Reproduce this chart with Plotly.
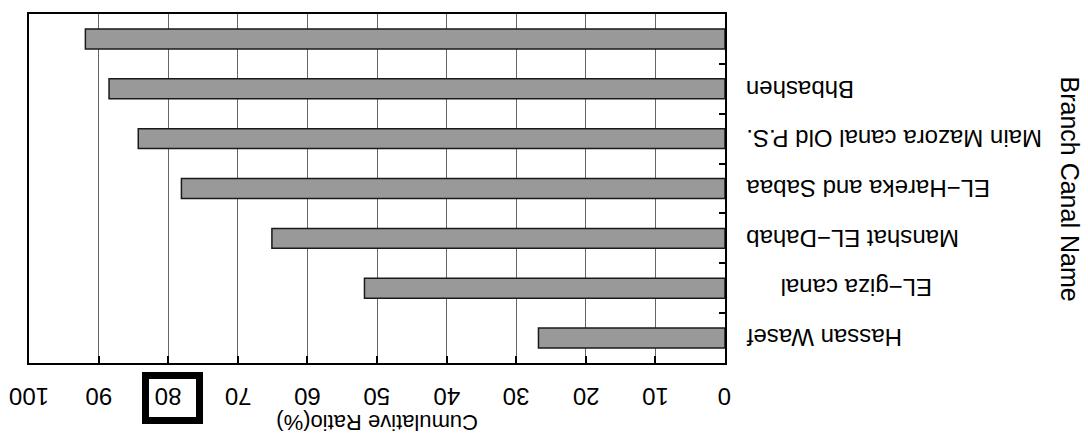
import plotly.graph_objects as go

# Data (top-to-bottom as displayed)
categories = ["", "Bhbashen", "Main Mazora canal Old P.S.", "EL\u2212Hareka and Sabaa",
              "Manshat EL\u2212Dahab", "EL\u2212giza canal", "Hassan Wasef"]
cumulative_ratio = [91.9, 88.5, 84.3, 78.1, 65.1, 51.8, 26.8]
tick_values = [0, 10, 20, 30, 40, 50, 60, 70, 80, 90, 100]
tick_labels = [str(v) for v in tick_values]
highlight_tick = 80

FONT = "Liberation Sans, Arial, Helvetica, sans-serif"
positions = list(range(len(categories)))

fig = go.Figure()
fig.add_trace(go.Bar(
    x=cumulative_ratio, y=positions, orientation="h", width=0.4,
    marker=dict(color="#999999", line=dict(color="#1a1a1a", width=1.5)),
    hoverinfo="x",
))

annotations = []
# x tick labels (upside down)
for v, lab in zip(tick_values, tick_labels):
    annotations.append(dict(x=v, xref="x", y=0, yref="paper", text=lab, showarrow=False,
                            textangle=180, font=dict(family=FONT, size=24, color="black"),
                            xanchor="center", yanchor="middle", yshift=-34))
# highlight box around one tick label
annotations.append(dict(x=highlight_tick, xref="x", y=0, yref="paper", text=" ",
                        showarrow=False, bordercolor="black", borderwidth=7, borderpad=0,
                        width=47, height=38, xanchor="center", yanchor="middle",
                        xshift=4, yshift=-34.5, font=dict(family=FONT, size=20)))

# category labels (upside down)
label_shift = {"EL\u2212giza canal": 35}
for p, lab in zip(positions, categories):
    if not lab:
        continue
    annotations.append(dict(x=1, xref="paper", y=p, yref="y", text=lab, showarrow=False,
                            textangle=180, font=dict(family=FONT, size=24, color="black"),
                            xanchor="left", yanchor="middle",
                            xshift=19 + label_shift.get(lab, 0)))

# axis titles
annotations.append(dict(x=50, xref="x", y=0, yref="paper", text="Cumulative Ratio(%)",
                        showarrow=False, textangle=180,
                        font=dict(family=FONT, size=22, color="black"),
                        xanchor="center", yanchor="middle", yshift=-60))
annotations.append(dict(x=1, xref="paper", y=0.5, yref="paper", text="Branch Canal Name",
                        showarrow=False, textangle=90,
                        font=dict(family=FONT, size=25, color="black"),
                        xanchor="center", yanchor="middle", xshift=345))

fig.update_layout(
    width=1088, height=434, autosize=False,
    margin=dict(l=29, r=363, t=12, b=71, pad=0),
    paper_bgcolor="white", plot_bgcolor="white",
    showlegend=False,
    annotations=annotations,
    xaxis=dict(range=[100, 0], tickvals=tick_values, showticklabels=False,
               ticks="inside", ticklen=7, tickwidth=1.5, tickcolor="black",
               showgrid=True, gridcolor="#666666", gridwidth=1, zeroline=False,
               showline=True, linecolor="black", linewidth=1.5, mirror=True),
    yaxis=dict(range=[len(categories) - 0.5, -0.5], side="right",
               tickvals=[p + 0.5 for p in positions[:-1]], showticklabels=False,
               ticks="inside", ticklen=6, tickwidth=1.5, tickcolor="black",
               showgrid=False, zeroline=False,
               showline=True, linecolor="black", linewidth=1.5, mirror=True),
)

fig.write_html("out.html", config={"displayModeBar": False},
               post_script="document.body.style.margin='0';document.body.style.overflow='hidden';")
